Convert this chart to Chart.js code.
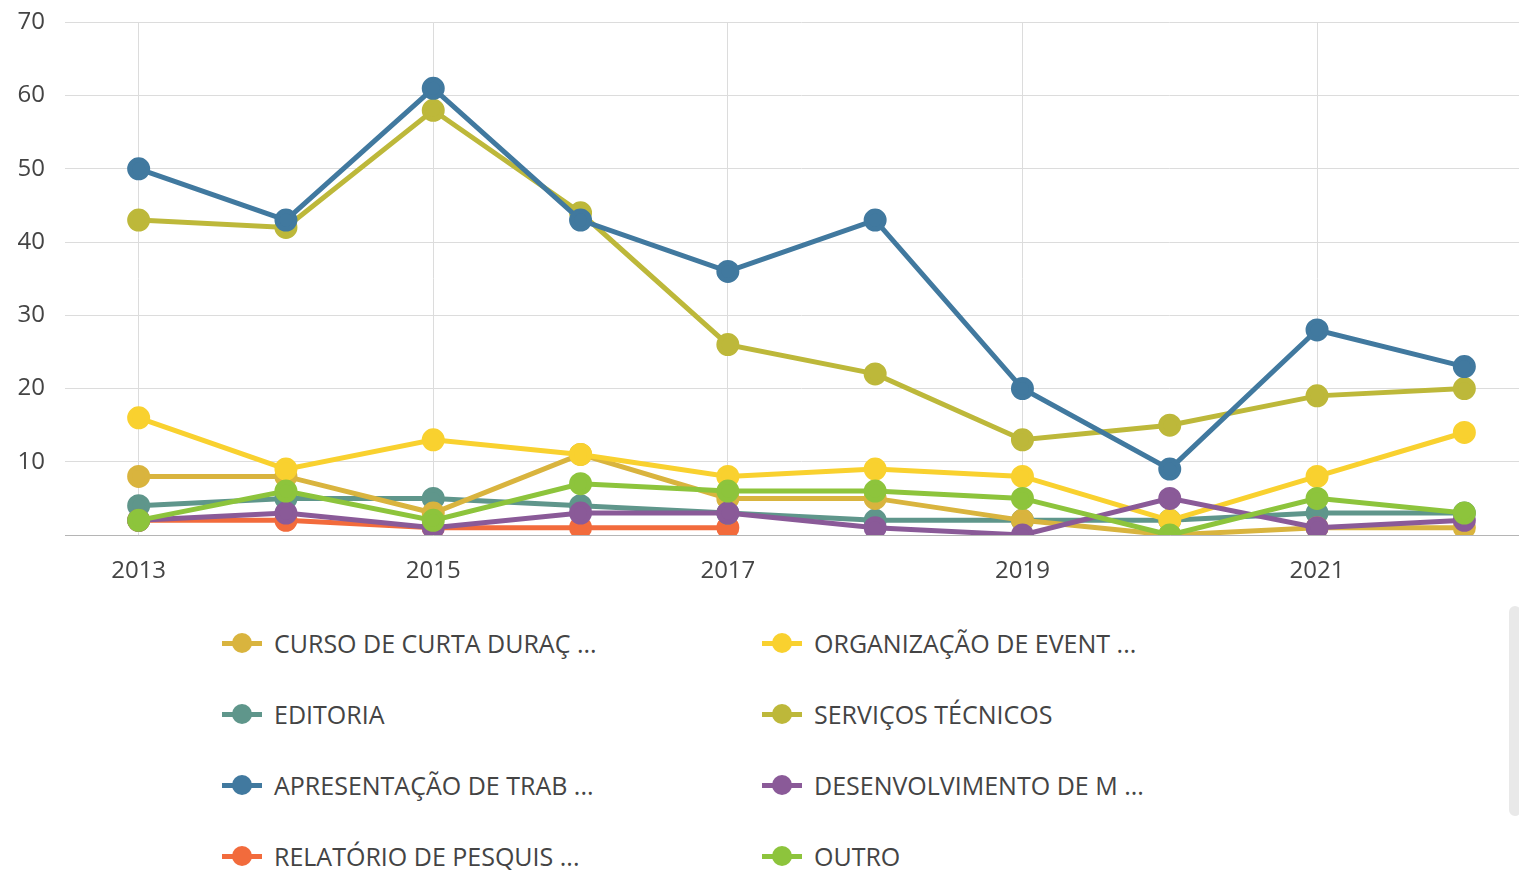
<!DOCTYPE html>
<html>
<head>
<meta charset="utf-8">
<script src="https://cdn.jsdelivr.net/npm/chart.js"></script>
<style>
  html, body { margin: 0; padding: 0; background: #fff; overflow: hidden; }
  body { width: 1519px; height: 870px; position: relative; font-family: "Open Sans", sans-serif; }
  #wrap { position: absolute; left: 0; top: -12px; width: 1552px; height: 612px; }
  #legend { position: absolute; left: 222px; top: 607px; display: grid; grid-template-columns: 540px 500px; grid-auto-rows: 71px; }
  .item { display: flex; align-items: center; font-size: 25px; color: #444; white-space: nowrap; }
  .icon { position: relative; width: 40px; height: 20px; margin-right: 12px; }
  .icon .ln { position: absolute; left: 0; right: 0; top: 8px; height: 5px; }
  .icon .dot { position: absolute; left: 10px; top: 0px; width: 20px; height: 20px; border-radius: 50%; }
  #scroll { position: absolute; left: 1509px; top: 606px; width: 12px; height: 210px; background: #e9e9e9; border-radius: 6px; }
</style>
</head>
<body>
<div id="wrap"><canvas id="line"></canvas></div>
<div id="legend"></div>
<div id="scroll"></div>
<script>
// years on the x axis
const years = ['2013', '2014', '2015', '2016', '2017', '2018', '2019', '2020', '2021', '2022'];

// series, in legend order
const curso = [8, 8, 3, 11, 5, 5, 2, 0, 1, 1];
const organizacao = [16, 9, 13, 11, 8, 9, 8, 2, 8, 14];
const editoria = [4, 5, 5, 4, 3, 2, 2, 2, 3, 3];
const servicos = [43, 42, 58, 44, 26, 22, 13, 15, 19, 20];
const apresentacao = [50, 43, 61, 43, 36, 43, 20, 9, 28, 23];
const desenvolvimento = [2, 3, 1, 3, 3, 1, 0, 5, 1, 2];
const relatorio = [2, 2, 1, 1, 1, null, null, null, null, null];
const outro = [2, 6, 2, 7, 6, 6, 5, 0, 5, 3];

const names = ['CURSO DE CURTA DURAÇ ...', 'ORGANIZAÇÃO DE EVENT ...', 'EDITORIA', 'SERVIÇOS TÉCNICOS',
  'APRESENTAÇÃO DE TRAB ...', 'DESENVOLVIMENTO DE M ...', 'RELATÓRIO DE PESQUIS ...', 'OUTRO'];
const colors = ['#d9b43e', '#f9d12f', '#5f968b', '#bdb83a', '#41799f', '#8a5a98', '#f26b3c', '#8dc43c'];
const layer = [6, 5, 7, 4, 3, 2, 8, 1]; // lower = drawn on top
const series = [curso, organizacao, editoria, servicos, apresentacao, desenvolvimento, relatorio, outro];

const yTicks = [0, 10, 20, 30, 40, 50, 60, 70];

var datasets = series.map((d, i) => ({
  label: names[i],
  data: d,
  borderColor: colors[i],
  backgroundColor: colors[i],
  pointBackgroundColor: colors[i],
  pointBorderColor: colors[i],
  borderWidth: 5,
  pointRadius: 9,
  pointHoverRadius: 9,
  tension: 0,
  order: layer[i]
}));

var linechart = document.getElementById('line');
var line = new Chart(linechart, {
  type: 'line',
  data: { labels: years, datasets: datasets },
  options: {
    responsive: true,
    maintainAspectRatio: false,
    animation: false,
    layout: { padding: { top: 11, left: 0, right: 0, bottom: 0 } },
    plugins: { legend: { display: false }, tooltip: { enabled: false } },
    scales: {
      x: {
        offset: true,
        grid: {
          offset: false,
          drawTicks: false,
          color: (ctx) => ctx.index % 2 === 0 ? '#dcdcdc' : 'rgba(0,0,0,0)'
        },
        border: { display: true, color: '#b5b5b5' },
        ticks: {
          autoSkip: false,
          maxRotation: 0,
          padding: 22,
          color: '#444',
          font: { family: 'Open Sans', size: 24 },
          callback: function (v, i) { return i % 2 === 0 ? this.getLabelForValue(v) : ''; }
        },
        afterFit: (s) => { s.height = 65; }
      },
      y: {
        min: yTicks[0],
        max: yTicks[yTicks.length - 1],
        afterBuildTicks: (s) => { s.ticks = yTicks.map(v => ({ value: v })); },
        grid: { drawTicks: false, color: '#dcdcdc' },
        border: { display: false },
        ticks: {
          padding: 20,
          color: '#444',
          font: { family: 'Open Sans', size: 24 },
          callback: (v) => v === 0 ? '' : v
        },
        afterFit: (s) => { s.width = 65; }
      }
    }
  }
});

// legend, two columns
var legend = document.getElementById('legend');
names.forEach((n, i) => {
  var item = document.createElement('div');
  item.className = 'item';
  item.innerHTML = '<span class="icon"><span class="ln" style="background:' + colors[i] + '"></span>' +
    '<span class="dot" style="background:' + colors[i] + '"></span></span>' + n;
  legend.appendChild(item);
});
</script>
</body>
</html>
